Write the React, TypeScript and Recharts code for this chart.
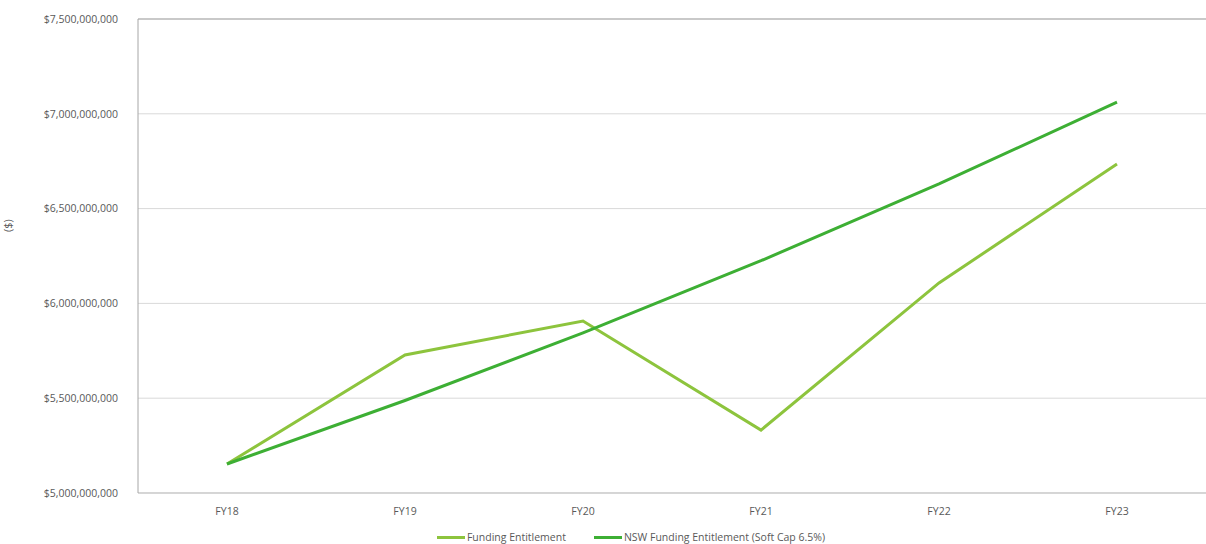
import { LineChart, Line, XAxis, YAxis, CartesianGrid, Legend, ReferenceLine } from 'recharts'

const years = ['FY18', 'FY19', 'FY20', 'FY21', 'FY22', 'FY23']
const fundingEntitlement = [5153000000, 5728000000, 5907000000, 5332000000, 6108000000, 6735000000]
const nswSoftCap = [5153000000, 5488000000, 5845000000, 6225000000, 6630000000, 7061000000]
const yTicks = [5000000000, 5500000000, 6000000000, 6500000000, 7000000000, 7500000000]

const data = years.map((year, i) => ({
  year,
  funding: fundingEntitlement[i],
  nsw: nswSoftCap[i],
}))

const LIGHT_GREEN = '#8DC43D'
const DARK_GREEN = '#3DAF34'
const FONT = '"Open Sans", "Noto Sans", sans-serif'

const fmt = (v: number) => '$' + v.toLocaleString('en-US')

function LegendContent() {
  const items = [
    { label: 'Funding Entitlement', color: LIGHT_GREEN },
    { label: 'NSW Funding Entitlement (Soft Cap 6.5%)', color: DARK_GREEN },
  ]
  return (
    <div style={{ display: 'flex', justifyContent: 'center', gap: 28, fontFamily: FONT, fontSize: 10.5, color: '#595959', marginLeft: 56 }}>
      {items.map((it) => (
        <div key={it.label} style={{ display: 'flex', alignItems: 'center' }}>
          <span style={{ display: 'inline-block', width: 28, height: 3, background: it.color, marginRight: 2 }} />
          <span>{it.label}</span>
        </div>
      ))}
    </div>
  )
}

export default function App() {
  return (
    <div style={{ position: 'absolute', left: 0, top: 0, width: 1206, height: 544, background: '#fff' }}>
      <LineChart width={1206} height={544} data={data} margin={{ top: 19, right: 0, bottom: 0, left: 0 }}>
        <CartesianGrid vertical={false} stroke="#D9D9D9" />
        <XAxis
          dataKey="year"
          padding={{ left: 89, right: 89 }}
          axisLine={{ stroke: '#BFBFBF' }}
          tickLine={false}
          tick={{ fill: '#595959', fontSize: 10.5, fontFamily: FONT }}
          tickMargin={9}
          height={37}
        />
        <YAxis
          domain={[5000000000, 7500000000]}
          ticks={yTicks}
          tickFormatter={fmt}
          width={138}
          axisLine={{ stroke: '#A6A6A6' }}
          tickLine={false}
          tick={{ fill: '#595959', fontSize: 10.5, fontFamily: FONT }}
          tickMargin={14}
          label={{ value: '($)', angle: -90, position: 'insideLeft', offset: 8, dy: -24, style: { fill: '#595959', fontSize: 11, fontFamily: FONT } }}
        />
        <ReferenceLine y={7500000000} stroke="#A6A6A6" />
        <Legend content={<LegendContent />} verticalAlign="bottom" wrapperStyle={{ bottom: 0 }} />
        <Line type="linear" dataKey="funding" name="Funding Entitlement" stroke={LIGHT_GREEN} strokeWidth={3} dot={false} isAnimationActive={false} />
        <Line type="linear" dataKey="nsw" name="NSW Funding Entitlement (Soft Cap 6.5%)" stroke={DARK_GREEN} strokeWidth={3} dot={false} isAnimationActive={false} />
      </LineChart>
    </div>
  )
}
